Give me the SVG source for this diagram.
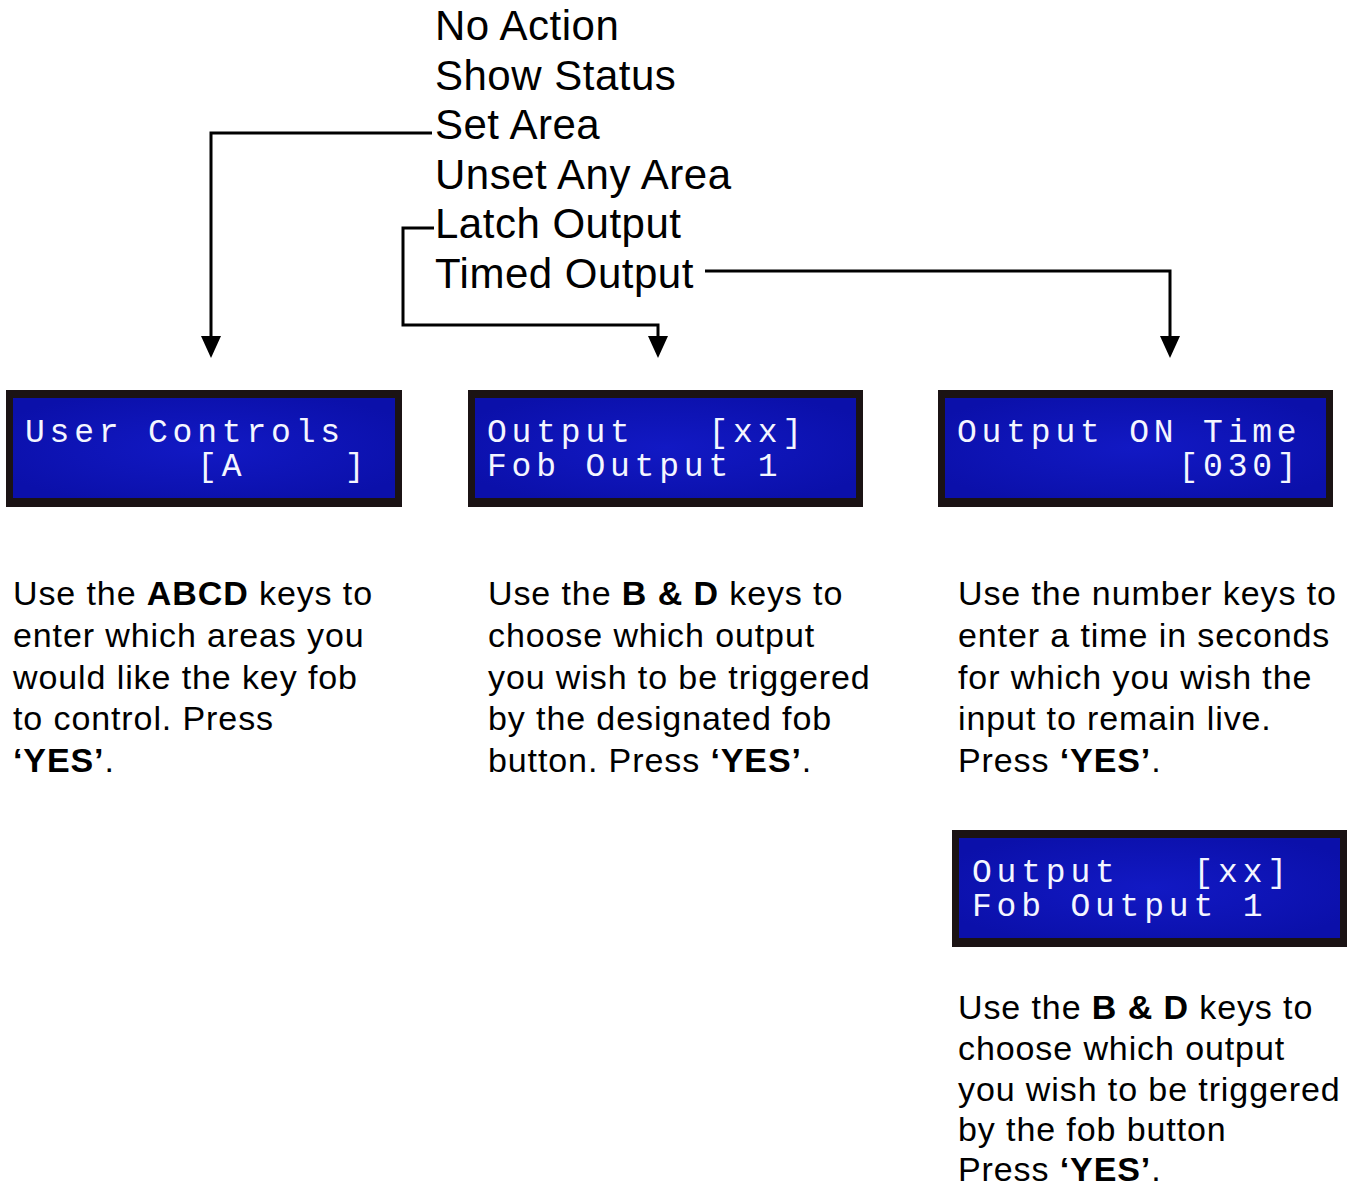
<svg xmlns="http://www.w3.org/2000/svg" width="1351" height="1189" viewBox="0 0 1351 1189">
  <style>
    .menu { font-family: "Liberation Sans", Arial, sans-serif; font-size: 42px; letter-spacing: 0.5px; fill: #000; }
    .desc { font-family: "Liberation Sans", Arial, sans-serif; font-size: 34px; letter-spacing: 0.9px; fill: #000; }
    .b { font-weight: bold; }
    .lcd { font-family: "Liberation Mono", "DejaVu Sans Mono", monospace; font-size: 33px; fill: #f4f6ff; letter-spacing: 4.8px; }
    .frame { fill: #1b1314; }
    .screen { fill: url(#blue); }
    .conn { fill: none; stroke: #000; stroke-width: 3; }
  </style>
  <defs>
    <radialGradient id="blue" cx="50%" cy="50%" r="60%">
      <stop offset="0" stop-color="#1219c4"/>
      <stop offset="1" stop-color="#0b10aa"/>
    </radialGradient>
    <marker id="arr" viewBox="0 0 22 20" refX="0" refY="10" markerWidth="22" markerHeight="20" markerUnits="userSpaceOnUse" orient="auto">
      <path d="M0,0 L22,10 L0,20 z" fill="#000"/>
    </marker>
  </defs>
  <rect width="1351" height="1189" fill="#fff"/>

  <g id="menu">
    <text class="menu" x="435" y="40">No Action</text>
    <text class="menu" x="435" y="89.5">Show Status</text>
    <text class="menu" x="435" y="139">Set Area</text>
    <text class="menu" x="435" y="188.5">Unset Any Area</text>
    <text class="menu" x="435" y="238">Latch Output</text>
    <text class="menu" x="435" y="287.5">Timed Output</text>
  </g>

  <g id="connectors">
    <path class="conn" d="M432,133 H211 V336" marker-end="url(#arr)"/>
    <path class="conn" d="M434,228 H403 V325 H658 V336" marker-end="url(#arr)"/>
    <path class="conn" d="M705,271 H1170 V336" marker-end="url(#arr)"/>
  </g>

  <g id="lcd-user-controls">
    <rect class="frame" x="6" y="390" width="396" height="117"/>
    <rect class="screen" x="13" y="398" width="382" height="100"/>
    <text class="lcd" xml:space="preserve"><tspan x="25" y="442">User Controls</tspan><tspan x="25" y="476">       [A    ]</tspan></text>
  </g>

  <g id="lcd-output">
    <rect class="frame" x="468" y="390" width="395" height="117"/>
    <rect class="screen" x="475" y="398" width="381" height="100"/>
    <text class="lcd" xml:space="preserve"><tspan x="487" y="442">Output   [xx]</tspan><tspan x="487" y="476">Fob Output 1</tspan></text>
  </g>

  <g id="lcd-on-time">
    <rect class="frame" x="938" y="390" width="395" height="117"/>
    <rect class="screen" x="945" y="398" width="381" height="100"/>
    <text class="lcd" xml:space="preserve"><tspan x="957" y="442">Output ON Time</tspan><tspan x="957" y="476">         [030]</tspan></text>
  </g>

  <g id="lcd-output-2">
    <rect class="frame" x="952" y="830" width="395" height="117"/>
    <rect class="screen" x="959" y="838" width="381" height="100"/>
    <text class="lcd" xml:space="preserve"><tspan x="972" y="882">Output   [xx]</tspan><tspan x="972" y="916">Fob Output 1</tspan></text>
  </g>

  <g id="desc-user-controls">
    <text class="desc" x="13" y="605">Use the <tspan class="b">ABCD</tspan> keys to</text>
    <text class="desc" x="13" y="647">enter which areas you</text>
    <text class="desc" x="13" y="689">would like the key fob</text>
    <text class="desc" x="13" y="730">to control. Press</text>
    <text class="desc" x="13" y="772"><tspan class="b">‘YES’</tspan>.</text>
  </g>

  <g id="desc-output">
    <text class="desc" x="488" y="605">Use the <tspan class="b">B &amp; D</tspan> keys to</text>
    <text class="desc" x="488" y="647">choose which output</text>
    <text class="desc" x="488" y="689">you wish to be triggered</text>
    <text class="desc" x="488" y="730">by the designated fob</text>
    <text class="desc" x="488" y="772">button. Press <tspan class="b">‘YES’</tspan>.</text>
  </g>

  <g id="desc-on-time">
    <text class="desc" x="958" y="605">Use the number keys to</text>
    <text class="desc" x="958" y="647">enter a time in seconds</text>
    <text class="desc" x="958" y="689">for which you wish the</text>
    <text class="desc" x="958" y="730">input to remain live.</text>
    <text class="desc" x="958" y="772">Press <tspan class="b">‘YES’</tspan>.</text>
  </g>

  <g id="desc-output-2">
    <text class="desc" x="958" y="1019">Use the <tspan class="b">B &amp; D</tspan> keys to</text>
    <text class="desc" x="958" y="1060">choose which output</text>
    <text class="desc" x="958" y="1101">you wish to be triggered</text>
    <text class="desc" x="958" y="1141">by the fob button</text>
    <text class="desc" x="958" y="1181">Press <tspan class="b">‘YES’</tspan>.</text>
  </g>
</svg>
